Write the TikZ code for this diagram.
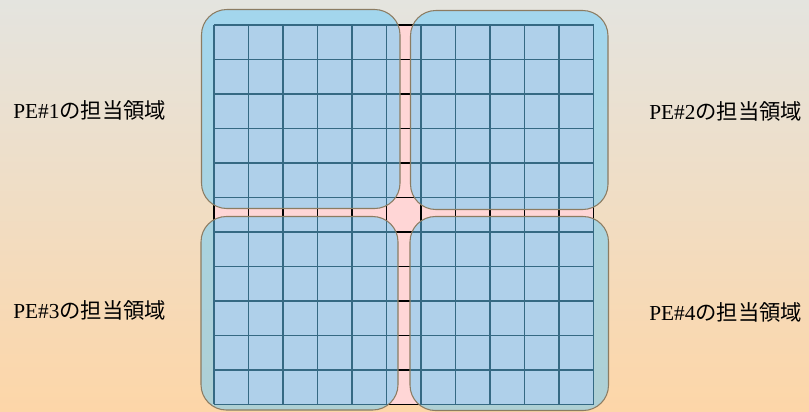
\documentclass[tikz,border=0pt]{standalone}
\usepackage{fontspec}
\setmainfont{Liberation Serif}
\newfontfamily\jpfont{Noto Sans CJK JP}
\definecolor{bgtop}{RGB}{228,228,223}
\definecolor{bgbottom}{RGB}{253,214,168}
\definecolor{cellpink}{RGB}{255,214,214}
\definecolor{areablue}{RGB}{103,203,253}
\definecolor{areaedge}{RGB}{140,124,98}

\begin{document}
\begin{tikzpicture}[x=0.75pt, y=-0.75pt,
    cellline/.style={draw=black, line width=1.2pt},
    area/.style={draw=areaedge, line width=0.8pt, fill=areablue,
                 fill opacity=0.52, rounded corners=19pt},
    pelabel/.style={anchor=west, inner sep=0pt,
                    font=\fontsize{16}{19}\selectfont},
]
\useasboundingbox (0,0) rectangle (809,411);
\shade[top color=bgtop, bottom color=bgbottom] (0,0) rectangle (809,411);

% 11x11 mesh
\fill[cellpink] (214,24.8) rectangle (593.5,404.3);
\foreach \i in {0,...,11} {
  \draw[cellline] ({214+34.5*\i},24.8) -- ({214+34.5*\i},404.3);
  \draw[cellline] (214,{24.8+34.5*\i}) -- (593.5,{24.8+34.5*\i});
}

% areas of the four PEs
\draw[area] (201.5,9.5) rectangle (400,208.5);
\draw[area] (410.5,10.5) rectangle (608,209.5);
\draw[area] (201,216.5) rectangle (398,410);
\draw[area] (410,216.5) rectangle (608.5,410.5);

\node[pelabel] (lab1) at (13,110) {PE\#1{\jpfont の担当領域}};
\node[pelabel] (lab2) at (649,111) {PE\#2{\jpfont の担当領域}};
\node[pelabel] (lab3) at (13,310) {PE\#3{\jpfont の担当領域}};
\node[pelabel] (lab4) at (649,312) {PE\#4{\jpfont の担当領域}};
\end{tikzpicture}
\end{document}
